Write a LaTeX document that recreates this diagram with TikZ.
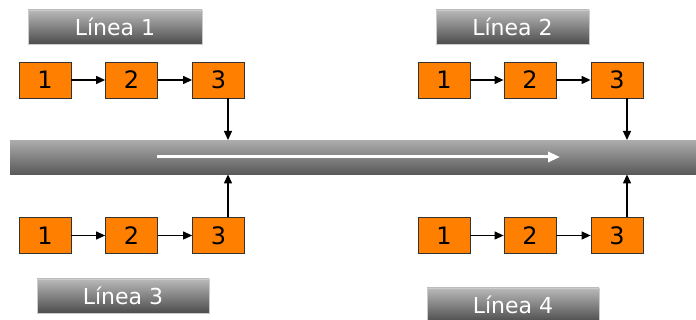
\documentclass[tikz,border=0pt]{standalone}
\usepackage{fontspec}
\setmainfont{DejaVu Sans}
\usetikzlibrary{arrows.meta}
\definecolor{boxorange}{HTML}{FF8000}
\tikzset{
  stepbox/.style={draw=black!80, line width=0.8pt, fill=boxorange, minimum width=52pt, minimum height=36pt, inner sep=0pt, font=\fontsize{24}{24}\selectfont},
  lineabox/.style={draw=gray!40, line width=0.5pt, top color=gray!55, bottom color=black!70, minimum height=34pt, inner sep=0pt, text=white, font=\fontsize{22}{22}\selectfont},
  flow/.style={line width=1.2pt, -{Triangle[length=9pt,width=8pt]}},
}
\begin{document}
\begin{tikzpicture}[x=1pt,y=-1pt]
\useasboundingbox (0,0) rectangle (696,320);
% main bar
\node[top color=gray!65, bottom color=black!65, minimum width=686pt, minimum height=34pt, inner sep=0pt, anchor=north west] (bar) at (10,140) {};
\coordinate (ws) at (157,157);
\coordinate (we) at (560,157);
\draw[white, line width=3pt, -{Triangle[length=12pt,width=10pt]}] (ws) -- (we);
\coordinate (xl) at (228,0);
\coordinate (xr) at (627,0);
% labels
\node[lineabox, minimum width=174pt] (l1) at (115,27) {Línea 1};
\node[lineabox, minimum width=153pt] (l2) at (512.5,27) {Línea 2};
\node[lineabox, minimum width=172pt] (l3) at (123,296) {Línea 3};
\node[lineabox, minimum width=172pt] (l4) at (513,305) {Línea 4};
% top left
\node[stepbox] (a1) at (45,80) {1};
\node[stepbox] (a2) at (131.5,80) {2};
\node[stepbox] (a3) at (218.5,80) {3};
% top right
\node[stepbox] (b1) at (444,80) {1};
\node[stepbox] (b2) at (530,80) {2};
\node[stepbox] (b3) at (617,80) {3};
% bottom left
\node[stepbox] (c1) at (45,235.5) {1};
\node[stepbox] (c2) at (131.5,235.5) {2};
\node[stepbox] (c3) at (218.5,235.5) {3};
% bottom right
\node[stepbox] (d1) at (444,235.5) {1};
\node[stepbox] (d2) at (530,235.5) {2};
\node[stepbox] (d3) at (617,235.5) {3};
% arrows
\draw[flow] (a1) -- (a2);
\draw[flow] (a2) -- (a3);
\draw[flow] (b1) -- (b2);
\draw[flow] (b2) -- (b3);
\draw[flow] (c1) -- (c2);
\draw[flow] (c2) -- (c3);
\draw[flow] (d1) -- (d2);
\draw[flow] (d2) -- (d3);
\draw[flow] (a3.south -| xl) -- (bar.north -| xl);
\draw[flow] (b3.south -| xr) -- (bar.north -| xr);
\draw[flow] (c3.north -| xl) -- (bar.south -| xl);
\draw[flow] (d3.north -| xr) -- (bar.south -| xr);
\end{tikzpicture}
\end{document}
